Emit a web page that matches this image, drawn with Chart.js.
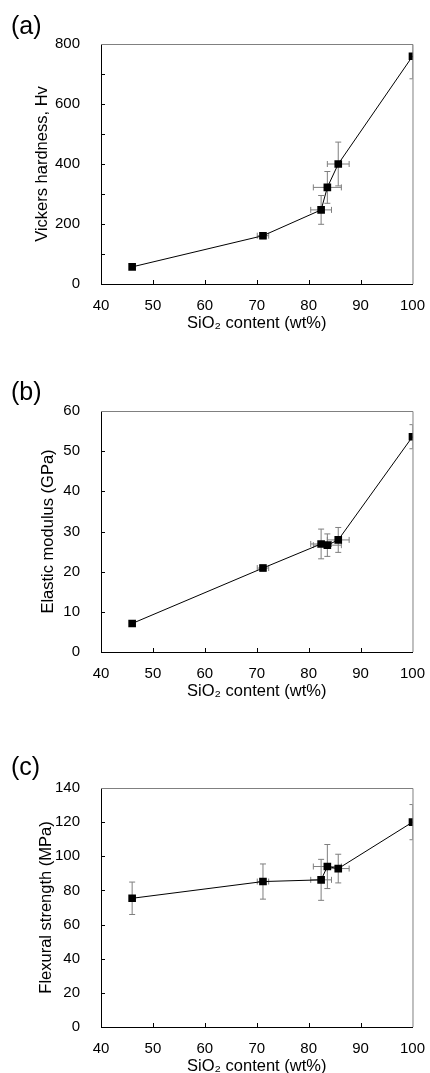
<!DOCTYPE html>
<html lang="en">
<head>
    <meta charset="UTF-8">
    <meta name="viewport" content="width=device-width, initial-scale=1.0">
    <title>SiO2 content vs. mechanical properties</title>
    <style>
        body {
            margin: 0;
            background: #fff;
            font-family: "Liberation Sans", Arial, sans-serif;
        }
        #wrap {
            position: relative;
            width: 430px;
            height: 1073px;
            overflow: hidden;
        }
        #wrap canvas {
            position: absolute;
            left: 0;
        }
    </style>
</head>
<body>
    <div id="wrap">
        <canvas id="chartA"></canvas>
        <canvas id="chartB"></canvas>
        <canvas id="chartC"></canvas>
    </div>

    <script src="https://cdn.jsdelivr.net/npm/chart.js@4.4.1/dist/chart.umd.min.js"></script>
    <script>
        // SiO2 content of the six samples (wt%) and its scatter
        const sio2 = [46.0, 71.2, 82.4, 83.6, 85.7, 100];
        const sio2Err = [0, 1.1, 2.0, 2.7, 2.1, 0];

        // (a) Vickers hardness
        const hardness = [57, 161, 247, 322, 400, 759];
        const hardnessErr = [5, 10, 48, 53, 73, 75];

        // (b) Elastic modulus, GPa
        const modulus = [7.1, 20.9, 26.9, 26.6, 27.9, 53.6];
        const modulusErr = [0.6, 0.8, 3.7, 2.8, 3.1, 3.0];

        // (c) Flexural strength, MPa
        const flexural = [75.4, 85.2, 86.2, 94.0, 92.8, 120];
        const flexuralErr = [9.5, 10.3, 12, 12.9, 8.4, 10.3];

        const xTicks = [40, 50, 60, 70, 80, 90, 100];

        const FONT = '"Liberation Sans", Arial, sans-serif';

        // gray error bars, clipped to the plot
        const errorBars = {
            id: 'errorBars',
            beforeDatasetsDraw(chart, args, opts) {
                const { ctx, chartArea: a, scales: { x, y } } = chart;
                const cap = 3;
                ctx.save();
                ctx.beginPath();
                ctx.rect(a.left, a.top, a.width, a.height);
                ctx.clip();
                ctx.strokeStyle = '#7f7f7f';
                ctx.lineWidth = 1;
                opts.xs.forEach((xv, i) => {
                    const yv = opts.ys[i];
                    const px = x.getPixelForValue(xv);
                    const py = y.getPixelForValue(yv);
                    ctx.beginPath();
                    if (opts.yErr[i]) {
                        const t = y.getPixelForValue(yv + opts.yErr[i]);
                        const b = y.getPixelForValue(yv - opts.yErr[i]);
                        ctx.moveTo(px, t); ctx.lineTo(px, b);
                        ctx.moveTo(px - cap, t); ctx.lineTo(px + cap, t);
                        ctx.moveTo(px - cap, b); ctx.lineTo(px + cap, b);
                    }
                    if (opts.xErr[i]) {
                        const l = x.getPixelForValue(xv - opts.xErr[i]);
                        const r = x.getPixelForValue(xv + opts.xErr[i]);
                        ctx.moveTo(l, py); ctx.lineTo(r, py);
                        ctx.moveTo(l, py - cap); ctx.lineTo(l, py + cap);
                        ctx.moveTo(r, py - cap); ctx.lineTo(r, py + cap);
                    }
                    ctx.stroke();
                });
                ctx.restore();
            }
        };

        // top/right frame, inward tick marks, panel letter
        const frame = {
            id: 'frame',
            beforeDatasetsDraw(chart, args, opts) {
                const { ctx, chartArea: a, scales: { x, y } } = chart;
                ctx.save();
                ctx.strokeStyle = '#808080';
                ctx.lineWidth = 1;
                ctx.beginPath();
                ctx.moveTo(a.left, a.top + 0.5);
                ctx.lineTo(a.right + 0.5, a.top + 0.5);
                ctx.lineTo(a.right + 0.5, a.bottom);
                ctx.stroke();

                ctx.strokeStyle = '#000';
                ctx.beginPath();
                for (let v = y.min + opts.yTick; v < y.max; v += opts.yTick) {
                    const py = Math.round(y.getPixelForValue(v)) + 0.5;
                    ctx.moveTo(a.left, py);
                    ctx.lineTo(a.left + 4, py);
                }
                xTicks.slice(1, -1).forEach(v => {
                    const px = Math.round(x.getPixelForValue(v)) + 0.5;
                    ctx.moveTo(px, a.bottom);
                    ctx.lineTo(px, a.bottom - 4);
                });
                ctx.stroke();
                ctx.restore();
            },
            afterDraw(chart, args, opts) {
                const { ctx, chartArea: a } = chart;
                ctx.save();
                ctx.fillStyle = '#000';
                ctx.font = '25px ' + FONT;
                ctx.textBaseline = 'middle';
                ctx.fillText(opts.label, 11, a.top - opts.labelGap);
                ctx.restore();
            }
        };

        function makeChart(id, p) {
            const canvas = document.getElementById(id);
            canvas.width = 430;
            canvas.height = p.height;
            canvas.style.top = p.top + 'px';
            canvas.style.width = '430px';
            canvas.style.height = p.height + 'px';

            const xAxisH = p.height - p.plotBottom;
            const points = sio2.map((v, i) => ({ x: v, y: p.ys[i] }));

            return new Chart(canvas, {
                type: 'scatter',
                data: {
                    datasets: [{
                        data: points,
                        showLine: true,
                        borderColor: '#000',
                        borderWidth: 1,
                        backgroundColor: '#000',
                        pointStyle: 'rect',
                        pointRadius: 5.4,
                        pointBorderWidth: 0,
                        tension: 0
                    }]
                },
                options: {
                    responsive: false,
                    animation: false,
                    events: [],
                    layout: { padding: { top: p.plotTop, right: 14, left: 0, bottom: 0 } },
                    plugins: {
                        legend: { display: false },
                        tooltip: { enabled: false },
                        errorBars: { xs: sio2, ys: p.ys, xErr: sio2Err, yErr: p.yErr },
                        frame: { label: p.label, labelGap: p.labelGap, yTick: p.yTick }
                    },
                    scales: {
                        x: {
                            type: 'linear',
                            min: 40,
                            max: 100,
                            afterFit: s => { s.height = xAxisH; },
                            afterBuildTicks: s => { s.ticks = xTicks.map(v => ({ value: v })); },
                            grid: { display: false },
                            border: { color: '#000', width: 1 },
                            ticks: { color: '#000', font: { family: FONT, size: 15 }, padding: 5 },
                            title: {
                                display: true,
                                text: 'SiO₂ content (wt%)',
                                color: '#000',
                                font: { family: FONT, size: 16.5 },
                                padding: { top: 0, bottom: xAxisH - 39 - 9.9 }
                            }
                        },
                        y: {
                            min: 0,
                            max: p.yMax,
                            afterFit: s => { s.width = 101; },
                            grid: { display: false },
                            border: { color: '#000', width: 1 },
                            ticks: { stepSize: p.yStep, color: '#000', font: { family: FONT, size: 15 }, padding: 13 },
                            title: {
                                display: true,
                                text: p.yTitle,
                                color: '#000',
                                font: { family: FONT, size: 16.5 },
                                padding: { top: p.yTitleX - 9.9, bottom: 0 }
                            }
                        }
                    }
                },
                plugins: [errorBars, frame]
            });
        }

        makeChart('chartA', {
            top: 0, height: 340, plotTop: 44, plotBottom: 284,
            ys: hardness, yErr: hardnessErr, yMax: 800, yStep: 200, yTick: 100,
            yTitle: 'Vickers hardness, Hv', yTitleX: 42, label: '(a)', labelGap: 17
        });
        makeChart('chartB', {
            top: 340, height: 360, plotTop: 71, plotBottom: 312,
            ys: modulus, yErr: modulusErr, yMax: 60, yStep: 10, yTick: 10,
            yTitle: 'Elastic modulus (GPa)', yTitleX: 48, label: '(b)', labelGap: 18
        });
        makeChart('chartC', {
            top: 700, height: 383, plotTop: 88, plotBottom: 327,
            ys: flexural, yErr: flexuralErr, yMax: 140, yStep: 20, yTick: 20,
            yTitle: 'Flexural strength (MPa)', yTitleX: 46, label: '(c)', labelGap: 20
        });
    </script>
</body>
</html>
